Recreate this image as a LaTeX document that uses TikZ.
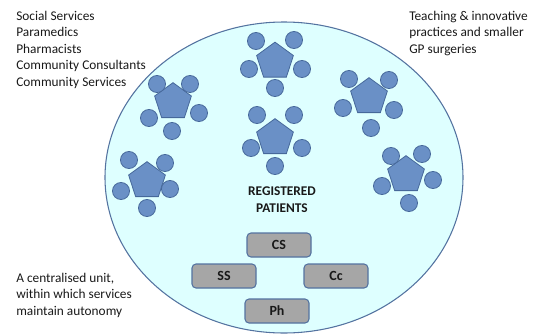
\documentclass[tikz,border=0pt]{standalone}
\usepackage{fontspec}
\setmainfont{Carlito}
\usetikzlibrary{shapes.geometric}
\definecolor{ellfill}{RGB}{222,255,255}
\definecolor{elldraw}{RGB}{84,115,160}
\definecolor{blobfill}{RGB}{106,144,198}
\definecolor{blobdraw}{RGB}{70,104,154}
\definecolor{boxfill}{RGB}{166,166,166}
\definecolor{boxdraw}{RGB}{84,115,160}
\definecolor{txt}{RGB}{25,25,25}
\begin{document}
\begin{tikzpicture}[x=0.75pt,y=-0.75pt,
 pent/.style={regular polygon, regular polygon sides=5, minimum size=29pt, inner sep=0pt, fill=blobfill, draw=blobdraw, line width=0.6pt},
 dot/.style={circle, minimum size=12.8pt, inner sep=0pt, fill=blobfill, draw=blobdraw, line width=0.6pt},
 svc/.style={rectangle, rounded corners=3pt, minimum width=48pt, minimum height=18pt, inner sep=0pt, fill=boxfill, draw=boxdraw, line width=0.8pt, font=\bfseries\fontsize{10.5}{11}\selectfont, text=txt},
 lbl/.style={align=left, anchor=north west, inner sep=0pt, font=\fontsize{10}{12.4}\selectfont, text=txt}]
\useasboundingbox (0,0) rectangle (540,336);
\node (unit) [ellipse, minimum width=268.5pt, minimum height=233.25pt, inner sep=0pt, fill=ellfill, draw=elldraw, line width=0.8pt] at (284,177.5) {};

\foreach \n/\px/\py/\ax/\ay/\bx/\by/\cx/\cy/\dx/\dy/\ex/\ey in {
  c1/275/61.5/256/41/294/40/249/69/302/69/275/88,
  c2/275/138/257/115/294/115/251/148/302/148/275/166,
  c3/173/102/157/84/190/84/149/118/199/113/172/131,
  c4/147/181/129/160/165/163/121/191/170/189/147/208,
  c5/369/97/349/79/389/80/343/108/394/110/371/128,
  c6/406/175/391/156/422/154/382/186/433/180/409/203}{
  \node (\n) [pent] at (\px,\py) {};
  \node (\n a) [dot] at (\ax,\ay) {};
  \node (\n b) [dot] at (\bx,\by) {};
  \node (\n c) [dot] at (\cx,\cy) {};
  \node (\n d) [dot] at (\dx,\dy) {};
  \node (\n e) [dot] at (\ex,\ey) {};
}

\node (reg) [align=center, font=\bfseries\fontsize{10}{12.75}\selectfont, text=txt, inner sep=0pt] at (282,199.5) {REGISTERED\\PATIENTS};

\node (cs) [svc] at (279,245) {CS};
\node (ss) [svc] at (224,276) {SS};
\node (cc) [svc] at (336,276) {Cc};
\node (ph) [svc] at (277,311) {Ph};

\node (left) [lbl] at (16,10.5) {Social Services\\Paramedics\\Pharmacists\\Community Consultants\\Community Services};
\node (right) [lbl] at (409,10.5) {Teaching \& innovative\\practices and smaller\\GP surgeries};
\node (bottom) [lbl] at (16,272.5) {A centralised unit,\\within which services\\maintain autonomy};
\end{tikzpicture}
\end{document}
